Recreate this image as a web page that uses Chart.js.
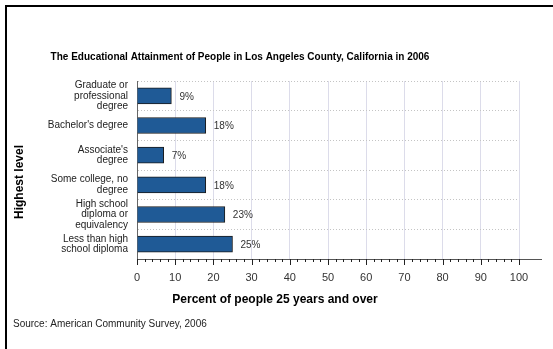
<!DOCTYPE html>
<html>
<head>
<meta charset="utf-8">
<script src="https://cdn.jsdelivr.net/npm/chart.js@4/dist/chart.umd.min.js"></script>
<style>
  html, body { margin: 0; padding: 0; background: #fff; }
  canvas { display: block; }
</style>
</head>
<body>
<canvas id="eduChart" width="553" height="349"></canvas>
<script>
// Data
const categories = [
  ['Graduate or', 'professional', 'degree'],
  "Bachelor's degree",
  ["Associate's", 'degree'],
  ['Some college, no', 'degree'],
  ['High school', 'diploma or', 'equivalency'],
  ['Less than high', 'school diploma']
];
const percentValues = [9, 18, 7, 18, 23, 25];
const axisMin = 0;
const axisMax = 100;
const majorStep = 10;
const minorStep = 2;

const chartTitle = 'The Educational Attainment of People in Los Angeles County, California in 2006';
const xTitle = 'Percent of people 25 years and over';
const yTitle = 'Highest level';
const sourceNote = 'Source: American Community Survey, 2006';

const FONT = 'Arial, "Liberation Sans", sans-serif';
Chart.defaults.font.family = FONT;

// frame, titles, tick marks and value labels
const chartDecor = {
  id: 'chartDecor',
  beforeDraw(chart) {
    const ctx = chart.ctx;
    ctx.save();
    ctx.fillStyle = '#fff';
    ctx.fillRect(0, 0, chart.width, chart.height);
    ctx.fillStyle = '#000';
    ctx.fillRect(5, 5, chart.width - 5, 2);
    ctx.fillRect(5, 5, 2, chart.height - 5);
    ctx.restore();
  },
  afterDraw(chart) {
    const ctx = chart.ctx;
    const area = chart.chartArea;
    const xs = chart.scales.x;
    ctx.save();

    // axis line, runs a bit past 100
    ctx.strokeStyle = '#555';
    ctx.lineWidth = 1;
    ctx.beginPath();
    ctx.moveTo(area.left, area.bottom + 0.5);
    ctx.lineTo(542, area.bottom + 0.5);
    ctx.stroke();

    // major / minor tick marks
    ctx.strokeStyle = '#222';
    xs.ticks.forEach(t => {
      const px = Math.round(xs.getPixelForValue(t.value)) + 0.5;
      const len = t.value % majorStep === 0 ? 6 : 3;
      ctx.beginPath();
      ctx.moveTo(px, area.bottom);
      ctx.lineTo(px, area.bottom + len);
      ctx.stroke();
    });

    // value labels
    ctx.fillStyle = '#333';
    ctx.font = '10px ' + FONT;
    ctx.textAlign = 'left';
    ctx.textBaseline = 'middle';
    chart.getDatasetMeta(0).data.forEach((bar, i) => {
      ctx.fillText(percentValues[i] + '%', bar.x + 8, bar.y + 1);
    });

    // chart title
    ctx.fillStyle = '#000';
    ctx.font = 'bold 10px ' + FONT;
    ctx.textAlign = 'center';
    ctx.fillText(chartTitle, 240, 57);

    // x axis title
    ctx.font = 'bold 12px ' + FONT;
    ctx.fillText(xTitle, 275, 300);

    // y axis title
    ctx.save();
    ctx.translate(20, 182);
    ctx.rotate(-Math.PI / 2);
    ctx.fillText(yTitle, 0, 0);
    ctx.restore();

    // source
    ctx.font = '10px ' + FONT;
    ctx.textAlign = 'left';
    ctx.fillStyle = '#222';
    ctx.fillText(sourceNote, 13, 324);

    ctx.restore();
  }
};

const ctx = document.getElementById('eduChart').getContext('2d');
const eduChart = new Chart(ctx, {
  type: 'bar',
  data: {
    labels: categories,
    datasets: [{
      label: 'Percent',
      data: percentValues,
      backgroundColor: '#1F5A96',
      borderColor: '#1a1a1a',
      borderWidth: 1,
      barThickness: 16
    }]
  },
  options: {
    indexAxis: 'y',
    responsive: false,
    animation: false,
    devicePixelRatio: 1,
    layout: {
      padding: { top: 81, left: 13, right: 34, bottom: 38 }
    },
    plugins: {
      legend: { display: false },
      tooltip: { enabled: false },
      title: { display: false }
    },
    scales: {
      x: {
        type: 'linear',
        min: axisMin,
        max: axisMax,
        afterFit(scale) { scale.height = 52; },
        ticks: {
          stepSize: minorStep,
          autoSkip: false,
          maxRotation: 0,
          padding: 7,
          color: '#333',
          font: { size: 11 },
          callback: v => (v % majorStep === 0 ? v : '')
        },
        grid: {
          color: c => (c.tick && c.tick.value % majorStep === 0 && c.tick.value > axisMin ? '#DCDCEA' : 'transparent'),
          lineWidth: 1,
          tickLength: 5,
          tickColor: 'transparent'
        },
        border: { display: false, dash: [] }
      },
      y: {
        afterFit(scale) { scale.width = 124; },
        ticks: {
          padding: 9,
          color: '#222',
          font: { size: 10, lineHeight: 1.05 },
          autoSkip: false
        },
        grid: {
          color: '#C4C4C4',
          drawTicks: false
        },
        border: { display: true, color: '#666', dash: [1, 2] }
      }
    }
  },
  plugins: [chartDecor]
});
</script>
</body>
</html>
